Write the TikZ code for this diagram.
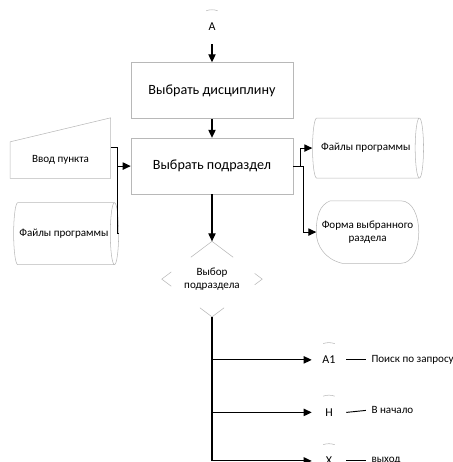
\documentclass[tikz,border=0pt]{standalone}
\usepackage{fontspec}
\setmainfont{Carlito}
\usetikzlibrary{positioning, calc, arrows.meta, shapes.geometric}

\begin{document}
\begin{tikzpicture}[
  block/.style={rectangle, draw=black!28, minimum width=121.5pt, minimum height=42pt, align=center, font=\fontsize{10.6}{13}\selectfont},
  store/.style={cylinder, draw=black!28, shape aspect=0.9, inner sep=0pt, align=center, font=\fontsize{8.3}{10}\selectfont},
  conn/.style={circle, minimum size=25.5pt, inner sep=0pt, font=\fontsize{9}{11}\selectfont},
  small/.style={align=center, font=\fontsize{8.3}{10}\selectfont},
  outline/.style={draw=black!28},
  arrow/.style={-{Triangle[length=6pt, width=5.5pt]}, line width=0.8pt},
  line/.style={line width=0.8pt},
  note/.style={inner sep=4pt, font=\fontsize{8.3}{10}\selectfont}
]
\useasboundingbox (0,0) rectangle (339.75pt,-346.5pt);

%--------------------------------------
% Main column
%--------------------------------------
\node[conn] (conn_A) at (159pt,-20.25pt) {A};
\node[block, below=13.5pt of conn_A] (disc) {Выбрать дисциплину};
\node[block, below=14.25pt of disc] (sub) {Выбрать подраздел};
\node[small, diamond, aspect=1.33, inner sep=0pt, minimum width=75pt, minimum height=56.25pt, below=35.25pt of sub] (choice) {Выбор\\подраздела};

%--------------------------------------
% Inputs
%--------------------------------------
\node[small, minimum width=75pt, minimum height=27pt, left=15pt of sub, yshift=4.5pt] (inp) {Ввод пункта};
\node[store, minimum height=78.75pt, minimum width=46.5pt, below=18pt of inp, xshift=2.6pt] (lfiles) {Файлы программы};

%--------------------------------------
% Outputs
%--------------------------------------
\node[store, minimum height=83.25pt, minimum width=45pt, right=14.25pt of sub, yshift=13.5pt] (rfiles) {Файлы программы};
\node[small, minimum width=76.5pt, minimum height=46.5pt, right=17.25pt of sub, yshift=-49.5pt] (form) {Форма выбранного\\раздела};

%--------------------------------------
% Connectors of the choice
%--------------------------------------
\node[conn] (conn_a1) at ($(choice.south)+(87.75pt,-32.25pt)$) {A1};
\node[conn, below=13.5pt of conn_a1] (conn_h) {H};
\node[conn, below=10.5pt of conn_h] (conn_x) {X};

\node[note, right=14.75pt of conn_a1] (note_a1) {Поиск по запросу};
\node[note, right=14.75pt of conn_h, yshift=1.5pt] (note_h) {В начало};
\node[note, right=14.75pt of conn_x] (note_x) {выход};

%--------------------------------------
% Outlines
%--------------------------------------
\draw[outline] (inp.south west) -- (inp.south east) -- ($(inp.north east)+(0,18pt)$) -- (inp.north west) -- cycle;

\draw[outline] ($(form.north west)+(10.5pt,0)$) -- ($(form.north east)+(-13.5pt,0)$)
  .. controls +(18pt,0) and +(18pt,0) .. ($(form.south east)+(-13.5pt,0)$)
  -- ($(form.south west)+(19.5pt,0)$)
  .. controls +(-12.75pt,3pt) and +(0,-10.5pt) .. (form.west)
  .. controls +(0,12pt) and +(-8pt,-3pt) .. ($(form.north west)+(10.5pt,0)$);

\foreach \c/\p/\q/\f in {north/west/east/0.42, west/north/south/0.19, east/north/south/0.15, south/west/east/0.24}
  \draw[outline] ($(choice.\c)!\f!(choice.\p)$) -- (choice.\c) -- ($(choice.\c)!\f!(choice.\q)$);

\foreach \n in {conn_A, conn_a1, conn_h, conn_x}
  \draw[outline] (\n.110) arc[start angle=110, end angle=70, radius=12.75pt];

%--------------------------------------
% Arrows and connections
%--------------------------------------
\draw[arrow] (conn_A.south) -- (disc.north);
\draw[arrow] (disc.south) -- (sub.north);
\draw[arrow] (sub.south) -- (choice.north);

\draw[line] ($(inp.north east)+(0,-4.5pt)$) -- ++(5.25pt,0) coordinate (bend) |- (lfiles.east);
\draw[arrow] (bend |- sub.west) -- (sub.west);

\draw[arrow] (sub.east) -- ++(5.25pt,0) |- (rfiles.west);
\draw[arrow] (sub.east) -- ++(7.5pt,0) |- (form.west);

\draw[arrow] (choice.south) |- (conn_x.west);
\draw[arrow] (choice.south |- conn_a1.west) -- (conn_a1.west);
\draw[arrow] (choice.south |- conn_h.west) -- (conn_h.west);

\draw[line, line width=0.7pt] (conn_a1.east) -- (note_a1.west);
\draw[line, line width=0.7pt] (conn_h.east) -- (note_h.west);
\draw[line, line width=0.7pt] (conn_x.east) -- (note_x.west);

\end{tikzpicture}
\end{document}
